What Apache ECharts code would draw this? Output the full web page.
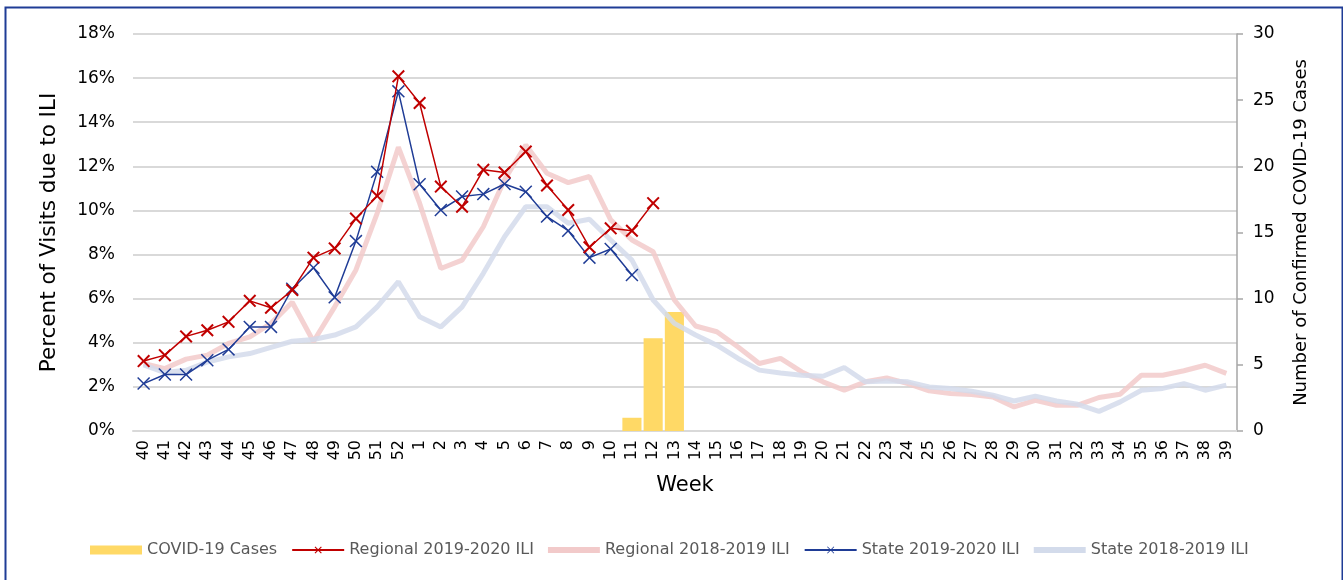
<!DOCTYPE html>
<html>
<head>
<meta charset="utf-8">
<script src="https://cdn.jsdelivr.net/npm/echarts@6/dist/echarts.min.js"></script>
<style>
html,body{margin:0;padding:0;background:#fff;}
#chart{width:1343px;height:580px;}
</style>
</head>
<body>
<div id="chart"></div>
<script>
var weeks = ['40','41','42','43','44','45','46','47','48','49','50','51','52',
  '1','2','3','4','5','6','7','8','9','10','11','12','13','14','15','16','17','18','19','20',
  '21','22','23','24','25','26','27','28','29','30','31','32','33','34','35','36','37','38','39'];

var covidCases = [null,null,null,null,null,null,null,null,null,null,null,null,null,
  null,null,null,null,null,null,null,null,null,null,1,7,9];

var regional1920 = [3.17,3.44,4.29,4.57,4.95,5.90,5.59,6.39,7.86,8.28,9.63,10.66,16.08,
  14.87,11.08,10.17,11.84,11.72,12.67,11.13,10.02,8.33,9.19,9.08,10.33];

var state1920 = [2.15,2.56,2.56,3.21,3.70,4.72,4.72,6.45,7.40,6.06,8.61,11.75,15.40,
  11.19,10.02,10.63,10.74,11.20,10.85,9.72,9.08,7.86,8.25,7.07];

var regional1819 = [3.06,2.83,3.26,3.44,3.97,4.27,4.88,5.84,4.06,5.63,7.30,9.87,12.87,
  10.33,7.37,7.75,9.26,11.39,12.97,11.69,11.26,11.54,9.57,8.66,8.13,5.94,4.76,4.50,3.81,3.06,3.29,2.68,2.23,
  1.85,2.23,2.41,2.15,1.82,1.70,1.65,1.54,1.09,1.39,1.17,1.17,1.52,1.67,2.53,2.53,2.73,2.98,2.61];

var state1819 = [3.00,2.65,2.75,3.13,3.36,3.51,3.79,4.07,4.15,4.35,4.72,5.63,6.77,
  5.18,4.72,5.63,7.15,8.81,10.17,10.17,9.42,9.60,8.66,7.75,5.94,4.88,4.35,3.89,3.29,2.76,2.63,2.53,2.48,
  2.88,2.23,2.27,2.23,2.00,1.93,1.80,1.62,1.36,1.58,1.36,1.21,0.89,1.32,1.85,1.93,2.15,1.85,2.08];

var leftTicks = {min:0, max:18, interval:2};
var rightTicks = {min:0, max:30, interval:5};

var xThick = 'path://M0,2.2 L2.2,0 L10,7.8 L17.8,0 L20,2.2 L12.2,10 L20,17.8 L17.8,20 L10,12.2 L2.2,20 L0,17.8 L7.8,10 Z';
var xThin = 'path://M0,1.6 L1.6,0 L10,8.4 L18.4,0 L20,1.6 L11.6,10 L20,18.4 L18.4,20 L10,11.6 L1.6,20 L0,18.4 L8.4,10 Z';
var thickLineIcon = 'path://M0,0 L52,0 L52,0.01 Z M0,1.5 L52,1.5 L52,7.5 L0,7.5 Z M0,9 L52,9 L52,9.01 Z';

var FONT = 'DejaVu Sans';
var chart = echarts.init(document.getElementById('chart'), null, {renderer:'canvas'});
chart.setOption({
  animation:false,
  backgroundColor:'#ffffff',
  textStyle:{fontFamily:FONT},
  graphic:[{
    type:'rect', left:3, top:5, z:-10,
    shape:{x:0,y:0,width:1337,height:600},
    style:{fill:'none', stroke:'#1F3C96', lineWidth:2}
  }],
  grid:{left:133, right:106, top:34, bottom:149, containLabel:false},
  legend:{
    left:85, top:537,
    itemWidth:52, itemHeight:9, itemGap:14,
    textStyle:{fontFamily:FONT, fontSize:16, color:'#595959'},
    data:[
      {name:'COVID-19 Cases', icon:'rect'},
      {name:'Regional 2019-2020 ILI'},
      {name:'Regional 2018-2019 ILI', icon:thickLineIcon, itemStyle:{color:'#F2CACA'}},
      {name:'State 2019-2020 ILI'},
      {name:'State 2018-2019 ILI', icon:thickLineIcon, itemStyle:{color:'#D3DBEB'}}
    ]
  },
  xAxis:{
    type:'category', data:weeks, boundaryGap:true,
    name:'Week', nameLocation:'middle', nameGap:44,
    nameTextStyle:{fontFamily:FONT, fontSize:21, color:'#000'},
    axisLine:{show:true, lineStyle:{color:'#D9D9D9', width:2}},
    axisTick:{show:false},
    axisLabel:{interval:0, rotate:90, fontFamily:FONT, fontSize:16, color:'#000', margin:9}
  },
  yAxis:[{
    type:'value', min:leftTicks.min, max:leftTicks.max, interval:leftTicks.interval,
    name:'Percent of Visits due to ILI', nameLocation:'middle', nameGap:73,
    nameTextStyle:{fontFamily:FONT, fontSize:21.5, color:'#000'},
    axisLine:{show:false}, axisTick:{show:false},
    axisLabel:{formatter:'{value}%', fontFamily:FONT, fontSize:17, color:'#000', margin:18},
    splitLine:{show:true, lineStyle:{color:'#D9D9D9', width:2}}
  },{
    type:'value', min:rightTicks.min, max:rightTicks.max, interval:rightTicks.interval, position:'right',
    name:'Number of Confirmed COVID-19 Cases', nameLocation:'middle', nameGap:55,
    nameTextStyle:{fontFamily:FONT, fontSize:18, color:'#000'},
    axisLine:{show:true, lineStyle:{color:'#A6A6A6', width:1.5}},
    axisTick:{show:true, length:6, inside:false, lineStyle:{color:'#A6A6A6', width:1.5}},
    axisLabel:{fontFamily:FONT, fontSize:17, color:'#000', margin:16},
    splitLine:{show:false}
  }],
  series:[{
    name:'COVID-19 Cases', type:'bar', yAxisIndex:1, data:covidCases,
    barCategoryGap:'10%', itemStyle:{color:'#FFD966'}, z:1
  },{
    name:'Regional 2018-2019 ILI', type:'line', data:regional1819,
    showSymbol:false, symbol:'none', lineStyle:{color:'#F2CACA', width:5, opacity:0.85},
    itemStyle:{color:'#F2CACA'}, z:2
  },{
    name:'State 2018-2019 ILI', type:'line', data:state1819,
    showSymbol:false, symbol:'none', lineStyle:{color:'#D3DBEB', width:5, opacity:0.85},
    itemStyle:{color:'#D3DBEB'}, z:2
  },{
    name:'State 2019-2020 ILI', type:'line', data:state1920,
    symbol:xThin, symbolSize:13, showAllSymbol:true,
    lineStyle:{color:'#1F3C96', width:1.5}, itemStyle:{color:'#1F3C96'}, z:3
  },{
    name:'Regional 2019-2020 ILI', type:'line', data:regional1920,
    symbol:xThick, symbolSize:13, showAllSymbol:true,
    lineStyle:{color:'#C00000', width:1.5}, itemStyle:{color:'#C00000'}, z:4
  }]
});
</script>
</body>
</html>
